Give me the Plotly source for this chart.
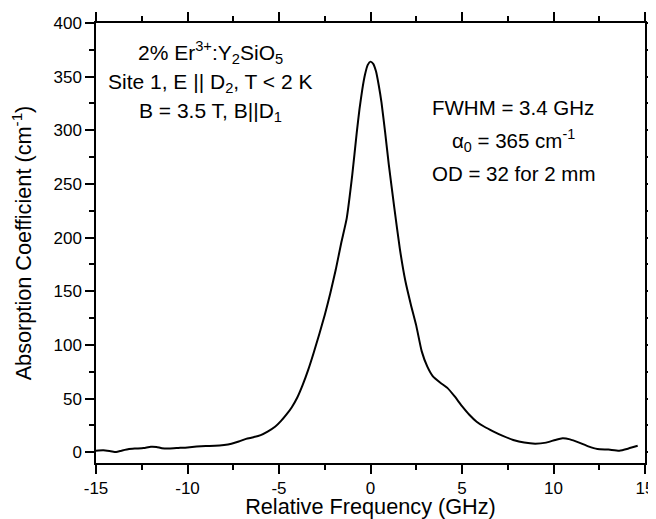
import plotly.graph_objects as go

# Relative frequency (GHz) and absorption coefficient (cm^-1)
freq = [-15.0, -14.6, -14.2, -13.9, -13.6, -13.2, -12.8, -12.4, -12.0, -11.7, -11.4, -11.0,
        -10.5, -10.0, -9.5, -9.0, -8.5, -8.0, -7.6, -7.2, -6.8, -6.4, -6.0, -5.6, -5.2,
        -4.9, -4.6, -4.3, -4.0, -3.7, -3.4, -3.1, -2.8, -2.5, -2.2, -1.9, -1.6, -1.3, -1.0,
        -0.75, -0.6, -0.45, -0.3, -0.15, 0.0, 0.15, 0.3, 0.45, 0.6, 0.8, 1.0, 1.3, 1.6, 1.9,
        2.2, 2.5, 2.8, 3.1, 3.4,
        3.8, 4.2, 4.6, 5.0, 5.4, 5.8, 6.2, 6.7, 7.2, 7.8, 8.4, 9.0, 9.6, 10.1, 10.5, 10.9,
        11.4, 11.9, 12.4, 13.0, 13.6, 14.1, 14.6]
absorption = [1.5, 1.8, 1.0, 0.3, 1.5, 3.0, 3.5, 4.0, 5.2, 5.0, 3.8, 3.5,
              4.0, 4.5, 5.3, 5.8, 6.0, 6.8, 8.0, 10.0, 12.5, 14.0, 16.0, 19.5, 24.0,
              29.0, 35.0, 42.0, 51.0, 63.0, 77.0, 93.0, 110.0, 128.0, 148.0, 170.0, 195.0, 218.0, 258.0,
              298.0, 320.0, 338.0, 352.0, 361.0, 364.0, 362.0, 355.0, 342.0, 326.0, 298.0, 268.0, 228.0, 190.0, 160.0,
              138.0, 118.0, 94.0, 80.0, 71.0,
              65.0, 60.0, 52.0, 43.0, 35.0, 28.5, 24.0, 19.5, 15.5, 11.5, 9.0, 8.0, 9.0, 11.5, 13.0, 12.0,
              9.0, 5.5, 3.0, 2.5, 1.5, 3.5, 6.0]

x_range = [-15, 15]
y_range = [-10, 400]
x_tickvals = [-15, -10, -5, 0, 5, 10, 15]
x_ticktext = ["-15", "-10", "-5", "0", "5", "10", "15"]
y_tickvals = [0, 50, 100, 150, 200, 250, 300, 350, 400]
y_ticktext = ["0", "50", "100", "150", "200", "250", "300", "350", "400"]

left_text = ["2% Er<sup>3+</sup>:Y<sub>2</sub>SiO<sub>5</sub>",
             "Site 1, E || D<sub>2</sub>, T &lt; 2 K",
             "B = 3.5 T, B||D<sub>1</sub>"]
right_text = ["FWHM = 3.4 GHz",
              "α<sub>0</sub> = 365 cm<sup>-1</sup>",
              "OD = 32 for 2 mm"]

FONT = "Liberation Sans, Arial, sans-serif"

fig = go.Figure()
fig.add_trace(go.Scatter(x=freq, y=absorption, mode="lines",
                         line=dict(color="black", width=2, shape="spline", smoothing=0.5),
                         showlegend=False))

axis_common = dict(
    showline=True, linecolor="black", linewidth=1.5, mirror="ticks",
    ticks="outside", ticklen=9, tickwidth=1.5, tickcolor="black",
    showgrid=False, zeroline=False, automargin=False,
    tickfont=dict(family=FONT, size=17, color="black"),
)

fig.update_xaxes(range=x_range, tickvals=x_tickvals, ticktext=x_ticktext,
                 minor=dict(ticks="outside", ticklen=5, tickwidth=1.5, tickcolor="black", dtick=2.5, tick0=-15),
                 title=dict(text="Relative Frequency (GHz)", font=dict(family=FONT, size=21.7, color="black"), standoff=5),
                 **axis_common)
fig.update_yaxes(range=y_range, tickvals=y_tickvals, ticktext=y_ticktext,
                 minor=dict(ticks="outside", ticklen=5, tickwidth=1.5, tickcolor="black", dtick=25, tick0=0),
                 title=dict(text="Absorption Coefficient (cm<sup>-1</sup>)", font=dict(family=FONT, size=21.7, color="black"), standoff=18),
                 **axis_common)

left_y = [0.934, 0.864, 0.798]
right_y = [0.807, 0.734, 0.659]
for t, yy in zip(left_text, left_y):
    fig.add_annotation(text=t, x=0.208, y=yy, xref="paper", yref="paper",
                       showarrow=False, xanchor="center", yanchor="middle",
                       font=dict(family=FONT, size=21, color="black"))
for t, yy in zip(right_text, right_y):
    fig.add_annotation(text=t, x=0.760, y=yy, xref="paper", yref="paper",
                       showarrow=False, xanchor="center", yanchor="middle",
                       font=dict(family=FONT, size=20.5, color="black"))

# the page body adds an 8 px margin, so the figure is sized and offset to fit the window
fig.update_layout(
    width=648, height=511,
    margin=dict(l=88, r=11, t=15, b=56),
    plot_bgcolor="white", paper_bgcolor="white",
)

fig.write_html("out.html")
